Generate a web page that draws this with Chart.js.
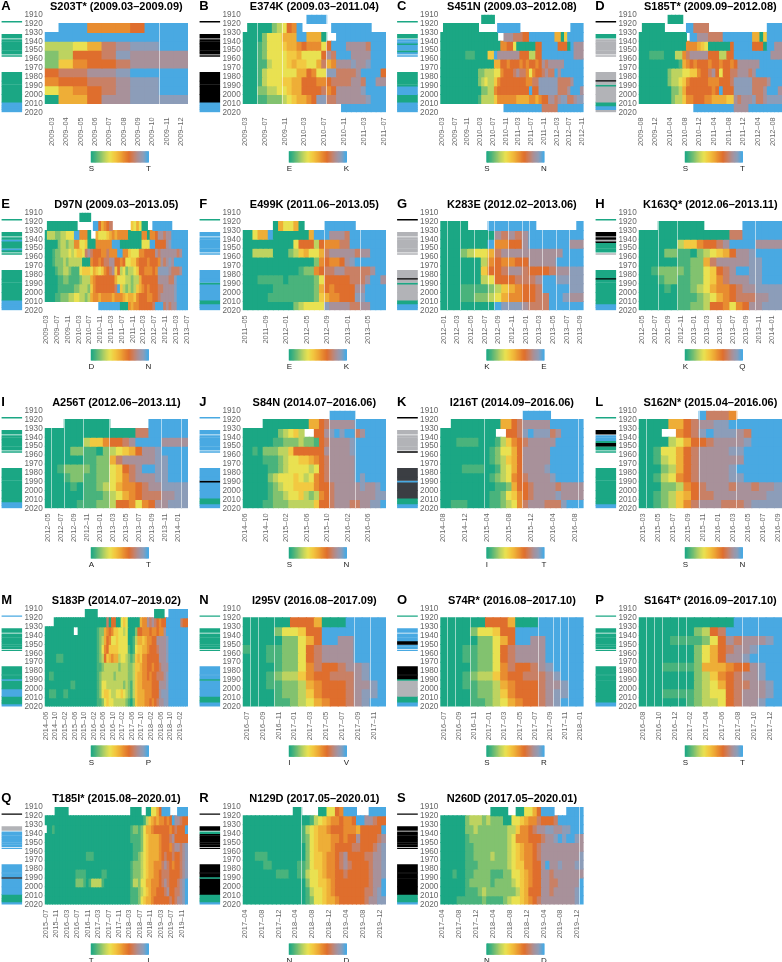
<!DOCTYPE html>
<html>
<head>
<meta charset="utf-8">
<script src="https://cdn.jsdelivr.net/npm/chart.js@4.4.1/dist/chart.umd.js"></script>
<style>
html, body { margin: 0; background: #fff; }
#fig { position: relative; width: 782px; height: 962px; overflow: hidden; }
canvas { position: absolute; }
</style>
</head>
<body>
<div id="fig"></div>
<script>
// each string is one birth decade (1910s..2010s), one base-13 digit per month: 0 = ancestral, c = derived, . = no data
const rowYears = [1910, 1920, 1930, 1940, 1950, 1960, 1970, 1980, 1990, 2000, 2010];

const S203T = [
  "..........",
  ".cc7778ccc",
  "cccccccccc",
  "33469abbcc",
  "23889baaaa",
  "257889aaaa",
  "899aabcccc",
  "78899abbcc",
  "46789abbcc",
  "0668aabbbb",
  ".........."];
const E374K = [
  "............. cccc ............",
  ". 00000 2348 7c ...... cccccccc ...",
  "0000 2 444 666 cc 666 0 .. cccccccccc",
  "000 1 2 444 5 6 6 7 8 77 7 4 8 ccc aa aa 9 ccc",
  "000 1 2 4444 55 6 4444 8 a9 ccc aaa a ccc",
  "000 11 3 444 565 544 6 9 6 7 aaabaabc cc",
  "000 1 3 4444 44 66 8 7 44 bb 9999 a c ccc 8",
  "000 1 3 444 55 66 888 77 8 9999 aa 9 c c aa",
  "000 22 33 44 5 66 8888 9 7 8 aaaaa b cccc",
  "000 11 222 3 4 5 66 7 8 bb 9 9 aaaa aa b ccc",
  ".......... .......... ccccccccc"];
const S451N = [
  ".......... ... 0000 .......... .......... ........",
  ". 00000 00000 0 ...... ccccccc .......... ...... cccc",
  "00000 00000 00000 000 .. aaa99988 cccccccc 66 0 5 ccccc",
  "00000 00000 00000 000 0 7 788 4 000000 88 ccccc 888 0 c aaa",
  "00000000 111 0000 55 c aaaaaaa 888 33 88 ccccccccc c aaa",
  "00000 00000 00000 00 66 8878887878878 a9aaaaa cccccc",
  "00000 00000 00 22333 44 788 8 9a 99 7 4 7 8 8 9 a9 9c a ccccccc",
  "00000 00000 00 23433 57 88888888 7799 b bbbbb 999 9a ccc",
  "00000 00000 000 2233 78 88888888 8 c 8 8 bbbbbb 999 a ccc a",
  "00000 00000 00 13333 57 7777766667767 8 8 aa 9a bb 99 abb",
  ".......... .......... cccccccccccc 99999 cccccccc"];
const S185T = [
  "........ 0000 .......... .......... .......",
  ". 000000 ...... cc 9999 .......... ...... cccc",
  "00000 00000 000 . cc aaa9999 cccccccc 66 0 5 ccccc",
  "00000 00000 000 77 7654 000000 8 ccccc 888 0 cc aa",
  "000 1111 000 33 7 9 aaaaa 888 33 88 cccccccccc aaa",
  "00000 00000 0 1 67 8788878878878 aaaaaa cccccc",
  "00000 000 2333 4455 788 9a8 4 88 99 aaa 9a ccccccc",
  "00000 000 2334 57 88888 777 88 89 bbbbb 999 9a ccc",
  "00000 0000 223 6 888888 878 c 8 88 bbbbb 999 a ccc a",
  "00000 0000 233 5 77888 77666655 a9 aaa b99 ab bbb",
  ".......... ..... ccccccccccc aaaa ccccccccc"];
const D97N = [
  ".......... ... 0000 .......... .......... .......... ......",
  ". 00000 00000 0 ...... cc 86789 ....... 5464 00 .. ccccccc ......",
  "0 33322334 44 cc 777 0 .. 6 4445 6767777 00000 77 0 7 78 aa9aa cccccc",
  "00000 2332 33 77 445 000 77777 7 ccc 00000000 444 cc 8888 abcccccc",
  "000 1223 3343 455 49 a9 888 779 777 cc 77 5444 7788 88 a9aaaaaa9a cc",
  "000 12223233333 000 78878 99aa 88 78 4455 78887 8887 a9aba ccccc",
  "0000 1223 32111 4555 46 5457 89a 583423 345 887 7787 bbbba999a cc",
  "0000 0112 21111 2333 67 88888 88 644433 233 688 8888 aaaa99b cccc",
  "00000 111 11122 3332 57 88888 88 9c5323 235 678 7888 99aaaab cccc",
  "0000 1122 23344 3323 67 76777 76 777656 657 888 7788 9aaaaab cccc",
  ".......... .......... cccccccc 000 767788 888 9 ccc 9a9aa cccc"];
const E499K = [
  "............................",
  "...... 0 6 44 6 0 .... cccccc ......",
  "00 4 66 c 0000000 6 ccc aaa9 ccccccc",
  "00000 00000 4 888 3 8 777 99 ccccccc",
  "00 3333 000 23 5 6 44 6 9aaa aa9aa ccc",
  "00000 00000 0000 2 7 8778 ab cccccc",
  "00000 00000 0 122 78 99aa9999 9a cc",
  "000111 1101 1111 24 888889 99a cca",
  "000000 1111 1111 26 878888 aa cccc",
  "00000 11111 1111 25 677888 bb cccc",
  "00000 00000 234444 baaaa99 aa ccc"];
const K283E = [
  ".....................",
  "0000 ... ccccccc ...... c",
  "00000000 a9a9a cccccccc",
  "0000000 c 7788 a cccccc aa",
  "000 23 44 6 9aaaa aaaaa ccc",
  "000000 3 787788 aaaa ccccc",
  "000000 5 88 9aa 9888 9aab b",
  "000000 34 8889 99a ccbbbb",
  "000 1111 23 567 889 ccccbb",
  "000 1122 34 677 889 9ccbaa",
  "00000000 cbbba 999 ccccc"];
const K163Q = [
  "......................",
  "... 0000000 ...... cccccc",
  "00000 00000 0000 99 cccccc",
  "000000 3 55 788 9a cccc aaaa",
  "0000 22 11 0 2 34 56 8 aab cccc",
  "000000 1122 6 9 aaaa abb ccc",
  "00 12 222122 45 89a ccb bccc",
  "000 122 1122 45 79a aab bccc",
  "0000 1011 23 46 778 9aa bbbb",
  "000000 11123 4 678 999 aabb",
  "000000 1122 3 88 7 4 7 8 aa bbb"];
const A256T = [
  "......................",
  "... 0000000 ...... cccccc",
  "00000 00000 0000 99 cccccc",
  "000000 3 55 788 9a cccc aaaa",
  "0000 22 11 0 2 34 56 8 aab cccc",
  "000000 1122 6 9 aaaa abb ccc",
  "00 12 222122 45 89a ccb bccc",
  "000 122 1122 45 79a aab bccc",
  "0000 1011 23 46 778 9aa bbbb",
  "000000 11123 4 678 999 aabb",
  "00000 11122 3 88 7 4 7 8 aa bbb"];
const S84N = [
  "................. ccccc ......",
  ".... 000000000 66 89 aaaaa cccccc",
  "0000000 23 45 3 .. 88 ab cbcc 9a cccc",
  "000000 112223 2 21 8 9aaa ab cccccc",
  "00 1022 2335 88888 8 aaaa ab cccccc",
  "000 01112 344556 78 9aaaaa cccccc",
  "00000 1123 4444 34 8 9aaaaa cccccc",
  "00000 23 4445 434 78 9aaaaa cbcccc",
  "00000 123 445555 78 89aa aa abaabc",
  "00000 122 3445 32 37 89aaaa aaaabb",
  "0000 1122 233333 58 89aaa9 9aabbc"];
const I216T = [
  "............... ccccc ......",
  ".. 000000000 66 89 aaaaa cccccc",
  "00000 00000 .. 889 bcbbb 9a cccc",
  "000 1111 000 1 3578 9aaaa a ccccc",
  "00000 0000 12 44 68 aaaaa cccccc",
  "00000 0000 12 35 68 aaaaa cccccc",
  "0000 111 100 1 34 68 aaaab cccccc",
  "00000 0000 12 34 78 9aaaa bccccc",
  "00000 00000 112 68 89aaa a9aaaa",
  "00000 0000 11 245 7 89aaa abaaaa",
  "00 111 0000 11 234 7 9aaa9 99bccc"];
const S162N = [
  "........ c 999 7 ......",
  "0000 66 8 9 aabbc cccccc",
  "000 .. 7 8 9 bcbbb a9 cccc",
  "0000 3 4 6 8 89aaa ab cccc",
  "00 1 4 4 6 8 9 aaaab bccccc",
  "00 1 3 4 6 8 9 aaaaa accccc",
  "000 2 3 6 8 9 aaaab cccccc",
  "00 1 3 4 7 8 9 aaaab bccccc",
  "000 2 2 3 7 8 9aaa9 aa9aab",
  "00 1 2 3 5 6 8 99aaa aaaabb",
  "00 1 2 3 5 7 9 aaa99 9abbbb"];
const S183P = [
  "................. 00000 .......... .......... .... 0000 .. cccccccc",
  ".... 00000 00000 00000 00000 00 9 0 88 00 454 00000 677 a9a9 8788 cccccc 988",
  "00000 00000 00 .. 00000000 122 6787 5544 34 000 2 8877 7877 877a ccccccccc",
  "00000 00000 00000 00000 00 12 3687 4454 444 001 3 6656 7788 aaaa b cccccccc",
  "00000 00000 00000 00000 00 12 478 5555 4444 101 45566 7888 9aaa b cccccccc",
  "00000 111 00000 00000 0000 12 385 6766 3443 212 56577 8888 8aaa b cccccccc",
  "00000 00000 00000 00000 00 11 233 3333 2333 223 55677 8878 89aa a cccccccc",
  "00 11 00000 00000 00000 000 12 333 3323 3333 223 56677 8788 999a b cccccccc",
  "00000 00000 0 11 00000 0000 12 443 3333 3323 213 56677 7788 8aaa b cccccccc",
  "00 111 000 11 00000 00000 00 12 455 4334 4543 213 56667 7788 8abb b cccccccc",
  "00000 00000 00000 00000 00 11 245 4433 3332 102 56667 7878 9aab b cccccccc"];
const I295V = [
  "..................",
  "000000 888 6 000 ccccc",
  "0000 2 44 5 88 cccccccc",
  "00000 22 4 6 8 cc aa cccc",
  "1001 1 22 4 8 9 aaaa cccc",
  "0001 1 22 4 8 9 aaaa cccc",
  "0000 1 22 4 7 9 889a abcc",
  "000 1 233 5 7 8 8999 abcc",
  "000 1 122 3 6 7 8889 aabc",
  "0000 1 22 3 5 7 8889 abbc",
  "0000 1 12 3 4 6 7889 abcc"];
const S74R = [
  "...................",
  "000000 888 6 000 cccccc",
  "0000 2 44 5 88 ccccccccc",
  "00000 22 4 6 8 cc aa ccccc",
  "000 1 1 22 4 8 9 aaaa ccccc",
  "000 1 1 22 4 8 9 aaaa ccccc",
  "0000 1 22 4 7 9 889a bcccc",
  "000 1 233 5 7 8 8999 abccc",
  "000 1 122 3 6 7 8889 aabcc",
  "0000 1 22 3 5 7 8889 abbcc",
  "0000 1 12 3 4 6 7889 abccc"];
const S164T = [
  "..................",
  "00000 00000 00 cccccc",
  "00000 00 2 3 8 9 ccccccc",
  "0000 111 12 4 8 a9a aabc",
  "00000 00 2 4 6 8 9 aab ccccc",
  "00000 00 2 4 6 8 aab cccccc",
  "000 1111 2 666 7 88 abcc",
  "00000 00 2 35 78 9a abcc",
  "00000 00 2 3 4 6 8 99 aabc",
  "000 1111 23 44 89 aaabc",
  "00000 0 1 23 34 89 aabcc"];
const T185I = [
  "....00000 .......... .......... .... 0000 .. 00 44 68 ccc ... cccc",
  "00000 00000 00000 00000 00000 00000 00000 000 13567 67787 8 c a a9 88",
  ".00 1 00000 00000 00000 00000 00000 0000 1221 2 4 66 7 888 8 887 8 98 88 c",
  "00000 00000 00000 00000 00000 00000 000 1111 2 4566 667 888 9a 8888 8",
  "00000 00000 00000 00000 00000 00000 000 0111 24 5666 67 888 79 aa9ab",
  "00000 00000 00000 0 111 00000 00000 0000 0112 34 5666 67 898 89 889ab",
  "00000 00000 00000 00000 00000 00000 000 122 23 4566 777 9a9 87 889ab",
  "00000 00000 00 1111 000000 11 00000 0000 122 23 4566 778 999 88 889ab",
  "00000 00000 00 222 1 01 3333 10 00000 0000 133 24 4667 778 9a9 88 89abc",
  "00000 00000 00000 00000 00000 00000 000 111 23 4567 788 89a 88 99abc",
  "00000 00000 00000 00000 00000 00000 000 111 24 5667 888 888 98 9aabc"];
const N129D = [
  "............ 00 .... 00 44 87 ccc ... cccc",
  "00000 00000 000000 13 45 67 78 778 cc aa9 88",
  "00000 00000 0000 13 45 66 78 8877 768 8888 c",
  "00000 00000 0000 12 45 66 67 7878 8a8 8889 a",
  "00000 00000 00000 24 566 67 8888 998 889a b",
  "000 111 00000 0000 24 556 77 89a8 888 99aa b",
  "00000 11 000000 11 24 556 77 89a9 888 89aa b",
  "00000 000 111 00 11 34 456 77 8898 888 89aa b",
  "00000 00000 00000 24 455 67 8888 888 89aa c",
  "00000 00000 00000 13 445 67 8888 888 99ab c",
  "00000 00000 00000 12 445 66 7888 888 9aab b"];
const N260D = [
  "............ 0000 .. 00 44 68 ccc ... cccc",
  "000000 233323222 00 44 56 77 9 888 9 cccccc",
  "000000 223222222 233 57 789 aab baa bbccc",
  "000000 122222222 23 47 7788 89a abc b ccba",
  "000000 11222222 22 345 6778 9aa aaa aaaaa",
  "000000 11222232 22 345 6778 9aa aaa aaaab",
  "000000 11122222 22 345 5778 8ac aab aaabb",
  "000100 11222211 12 244 5678 8aa 9aa aaaaa",
  "000000 12222212 22 234 5678 8aa 99a aaaac",
  "000000 11123222 22 223 5688 8aa 9aa aaabc",
  "0000 1111 1121 11 12 344 5678 9aa aaa aaabc"];

const panelRows = [S203T, E374K, S451N, S185T, D97N, E499K, K283E, K163Q, A256T, S84N, I216T, S162N, S183P, I295V, S74R, S164T, T185I, N129D, N260D];
const panelLetters = ["A","B","C","D","E","F","G","H","I","J","K","L","M","N","O","P","Q","R","S"];
const panelTitles = ["S203T* (2009.03–2009.09)","E374K (2009.03–2011.04)","S451N (2009.03–2012.08)","S185T* (2009.09–2012.08)",
  "D97N (2009.03–2013.05)","E499K (2011.06–2013.05)","K283E (2012.02–2013.06)","K163Q* (2012.06–2013.11)",
  "A256T (2012.06–2013.11)","S84N (2014.07–2016.06)","I216T (2014.09–2016.06)","S162N* (2015.04–2016.06)",
  "S183P (2014.07–2019.02)","I295V (2016.08–2017.09)","S74R* (2016.08–2017.10)","S164T* (2016.09–2017.10)",
  "T185I* (2015.08–2020.01)","N129D (2017.05–2020.01)","N260D (2017.05–2020.01)"];
const firstMonths = ["2009-03","2009-03","2009-03","2009-08","2009-03","2011-05","2012-01","2012-05","2012-05","2014-06","2014-08","2015-03","2014-06","2016-07","2016-07","2016-08","2015-07","2017-04","2017-04"];
const monthCounts = [10,29,45,39,53,28,21,22,22,28,26,19,60,18,19,18,55,34,34];
const tickEvery = [1,4,4,4,4,4,2,2,2,4,4,2,4,2,2,2,4,4,4];
const ancestralAA = ["S","E","S","S","D","E","K","K","A","S","I","S","S","I","S","S","T","N","N"];
const derivedAA = ["T","K","N","T","N","K","E","Q","T","N","T","N","P","V","R","T","I","D","D"];
const whiteLines = [[8],[3,8,17],[],[],[],[16,23],[1,3,5,7,8,10,12,13,15,17,19],[3,6,18],[1,3,6,10,18,21],[17,22],[8,15,25],[1,8,13],[],[1,2,4,14,16],[1,2,4,13,15,16,17],[1,2,3,5,6,13,15],[],[14],[33]];

// birth-year rug on the left of every panel
const rugFrom = [1917.6,1932,1938,1940.5,1942.4,1944.2,1946.4,1950.4,1952.4,1956.2,1975,1983.9,1985,1989.1,1990.8,2000,2008.5,2012.8,2015,2017];
const rugTo   = [1918.3,1936.5,1940,1942,1943.8,1946,1950,1952,1954.6,1957,1983.6,1984.8,1988.7,1990.5,2000,2008.5,2012.8,2015,2017,2020];
const rugGroups = [
  "tttttttttttttttt"+"bbbb","kkkkkkkkkkkkkkkk"+"bbbb","ttbbtbbtbbttttbt"+"bbbb","ktggggggggg"+"kgtgg"+"tbbg",
  "tttbtttbtttttttt"+"bbbb","tbbbbbbbbbbbbtbb"+"tbbb","kgggggggggg"+"kgtgg"+"tbbb","tkkgkttttg"+"tkttt"+"t"+"tbbb",
  "tttttttttttttttt"+"tbbb","bbbbbbbbbbbbbkbb"+"ttbb","kggggggggk"+"dddbdd"+"ttbb","tkbbbtkttt"+"tttttt"+"ttbb",
  "bttttttttt"+"tttbtb"+"tttb","tttttttttt"+"bbbtbb"+"ttbb","tbbbbbkbbb"+"kkktgg"+"ttbb","tttttttttt"+"tttttt"+"ttbb",
  "kgbbbbbbbb"+"bbbdbb"+"tttb","kktkkkkkkk"+"kkktkk"+"tttb","kkkkkkkkkk"+"kkkkkk"+"tttb"];
const rugColors = { t: "#1ba784", b: "#49a9e2", k: "#000000", g: "#b2b3b7", d: "#3b3e43" };

const rampColors = ["#1ba784","#49b37c","#82c26f","#bdd360","#e9e151","#f2c941","#eeae37","#e88c30","#df6e2d","#c98065","#a8919a","#8c9db9","#49a9e2"];
const colorbarSteps = Array.from({ length: 48 }, (_, i) => i / 47);

const columnX = [44.7, 242.7, 440.3, 638.7];
const rowY = [14.7, 212.7, 410.7, 609, 807];
const HEAT_W = 143.3, HEAT_H = 97.6;
const FONT = '"Liberation Sans", Arial, sans-serif';

function hexRgb(h) { return [1, 3, 5].map(i => parseInt(h.substr(i, 2), 16)); }
function rampAt(f) {
  const p = Math.min(f, 1) * (rampColors.length - 1), i = Math.min(Math.floor(p), rampColors.length - 2), t = p - i;
  const a = hexRgb(rampColors[i]), b = hexRgb(rampColors[i + 1]);
  return "rgb(" + a.map((v, k) => Math.round(v + (b[k] - v) * t)).join(",") + ")";
}
function monthLabels(start, n) {
  let [y, m] = start.split("-").map(Number);
  const out = [];
  for (let i = 0; i < n; i++) {
    out.push(y + "–" + String(m).padStart(2, "0"));
    m++;
    if (m > 12) { m = 1; y++; }
  }
  return out;
}
function addCanvas(left, top, w, h) {
  const c = document.createElement("canvas");
  c.width = w; c.height = h;
  c.style.left = left + "px"; c.style.top = top + "px";
  document.getElementById("fig").appendChild(c);
  return c;
}
// scales reserve room for their outer tick labels, which would shrink the plot
function noScalePadding(s) { s.paddingLeft = s.paddingRight = s.paddingTop = s.paddingBottom = 0; }
const baseOptions = { responsive: false, animation: false, events: [], plugins: { legend: { display: false }, tooltip: { enabled: false } } };

const panelLetter = {
  id: "panelLetter",
  // centre the title on the heat map, not on the layout stack
  afterLayout(chart) {
    const t = chart.titleBlock, a = chart.chartArea;
    t.left = a.left; t.right = a.right; t.width = a.right - a.left;
  },
  afterDraw(chart, args, o) {
    const ctx = chart.ctx;
    ctx.save();
    ctx.font = "bold 13px " + FONT;
    ctx.fillStyle = "#000";
    ctx.textBaseline = "alphabetic";
    ctx.fillText(o.text, o.x, o.y);
    ctx.restore();
  }
};

function drawHeat(i, hx, y0) {
  const left = Math.max(0, Math.floor(hx - 44)), top = Math.floor(y0 - 16);
  const xAxisH = 40, yAxisW = hx - left;
  const w = Math.ceil(yAxisW + HEAT_W + 4), h = Math.ceil(y0 - top + HEAT_H + xAxisH);
  const labels = monthLabels(firstMonths[i], monthCounts[i]);
  const gaps = new Set(whiteLines[i]);
  const datasets = panelRows[i].map((row, r) => {
    const cells = row.replace(/ /g, "").padEnd(labels.length, ".").slice(0, labels.length).split("");
    return {
      label: String(rowYears[r]),
      data: cells.map(c => c === "." ? null : [rowYears[r], rowYears[r] + 10]),
      backgroundColor: cells.map(c => c === "." ? "transparent" : rampAt(parseInt(c, 13) / 12)),
      borderWidth: 0, inflateAmount: 0.5, grouped: false, barPercentage: 1, categoryPercentage: 1
    };
  });
  new Chart(addCanvas(left, top, w, h), {
    type: "bar",
    data: { labels, datasets },
    plugins: [panelLetter],
    options: {
      ...baseOptions,
      layout: { autoPadding: false, padding: { top: y0 - top - 14.8, bottom: h - (y0 - top + HEAT_H + xAxisH), right: w - yAxisW - HEAT_W, left: 0 } },
      plugins: {
        ...baseOptions.plugins,
        title: { display: true, text: panelTitles[i], fullSize: false, color: "#000", font: { family: FONT, size: 11, weight: "bold", lineHeight: 1.2 }, padding: { top: 0, bottom: 1.6 } },
        panelLetter: { text: panelLetters[i], x: hx - 43.4 - left, y: y0 - 5 - top }
      },
      scales: {
        x: {
          type: "category",
          afterFit: s => { s.height = xAxisH; noScalePadding(s); },
          border: { display: false },
          grid: { offset: true, drawTicks: false, z: 1, lineWidth: 1, color: c => gaps.has(c.index) ? "rgba(255,255,255,0.55)" : "transparent" },
          ticks: { autoSkip: false, minRotation: 90, maxRotation: 90, padding: 5, color: "#666", font: { family: FONT, size: 7.4 },
            callback: (v, k) => k % tickEvery[i] === 0 ? labels[k] : "" }
        },
        y: {
          type: "linear", reverse: true, min: 1910, max: 2020,
          afterFit: s => { s.width = yAxisW; noScalePadding(s); },
          border: { display: false },
          grid: { display: false, drawTicks: false },
          ticks: { autoSkip: false, stepSize: 10, padding: 2, color: "#666", font: { family: FONT, size: 8.2 }, callback: v => String(v) }
        }
      }
    }
  });
}

function drawRug(i, hx, y0) {
  const x = hx - 43.2, left = Math.floor(x), top = Math.floor(y0);
  const w = Math.ceil(x - left + 20.7), h = Math.ceil(y0 - top + HEAT_H);
  const codes = rugGroups[i].split("");
  new Chart(addCanvas(left, top, w, h), {
    type: "bar",
    data: {
      labels: ["cohort"],
      datasets: rugFrom.map((from, k) => ({
        data: [[from, rugTo[k]]],
        backgroundColor: rugColors[codes[k]],
        borderWidth: 0, grouped: false, barPercentage: 1, categoryPercentage: 1
      }))
    },
    options: {
      ...baseOptions,
      layout: { autoPadding: false, padding: { left: x - left, top: y0 - top, right: w - (x - left) - 20.7, bottom: h - (y0 - top) - HEAT_H } },
      scales: {
        x: { display: false },
        y: { display: false, reverse: true, min: 1910, max: 2020 }
      }
    }
  });
}

function drawColorbar(i, hx, y0) {
  const x = hx + 46, yy = y0 + 136.5, left = Math.floor(x - 6), top = Math.floor(yy);
  const w = 71, h = 24, barH = 11.3, pad = x - left;
  new Chart(addCanvas(left, top, w, h), {
    type: "bar",
    data: {
      labels: colorbarSteps.map(String),
      datasets: [{ data: colorbarSteps.map(() => 1), backgroundColor: colorbarSteps.map(rampAt), borderWidth: 0, barPercentage: 1, categoryPercentage: 1, inflateAmount: 0.5 }]
    },
    options: {
      ...baseOptions,
      layout: { autoPadding: false, padding: { left: pad, right: w - pad - 58.3, top: yy - top, bottom: 0 } },
      scales: {
        x: {
          afterFit: s => { s.height = h - (yy - top) - barH; noScalePadding(s); },
          border: { display: false },
          grid: { display: false, drawTicks: false },
          ticks: { autoSkip: false, maxRotation: 0, minRotation: 0, padding: 1, color: "#222", font: { family: FONT, size: 8 },
            callback: (v, k) => k === 0 ? ancestralAA[i] : k === colorbarSteps.length - 1 ? derivedAA[i] : "" }
        },
        y: { display: false, min: 0, max: 1 }
      }
    }
  });
}

panelRows.forEach((rows, i) => {
  const hx = columnX[i % 4], y0 = rowY[Math.floor(i / 4)];
  drawHeat(i, hx, y0);
  drawRug(i, hx, y0);
  drawColorbar(i, hx, y0);
});
</script>
</body>
</html>
